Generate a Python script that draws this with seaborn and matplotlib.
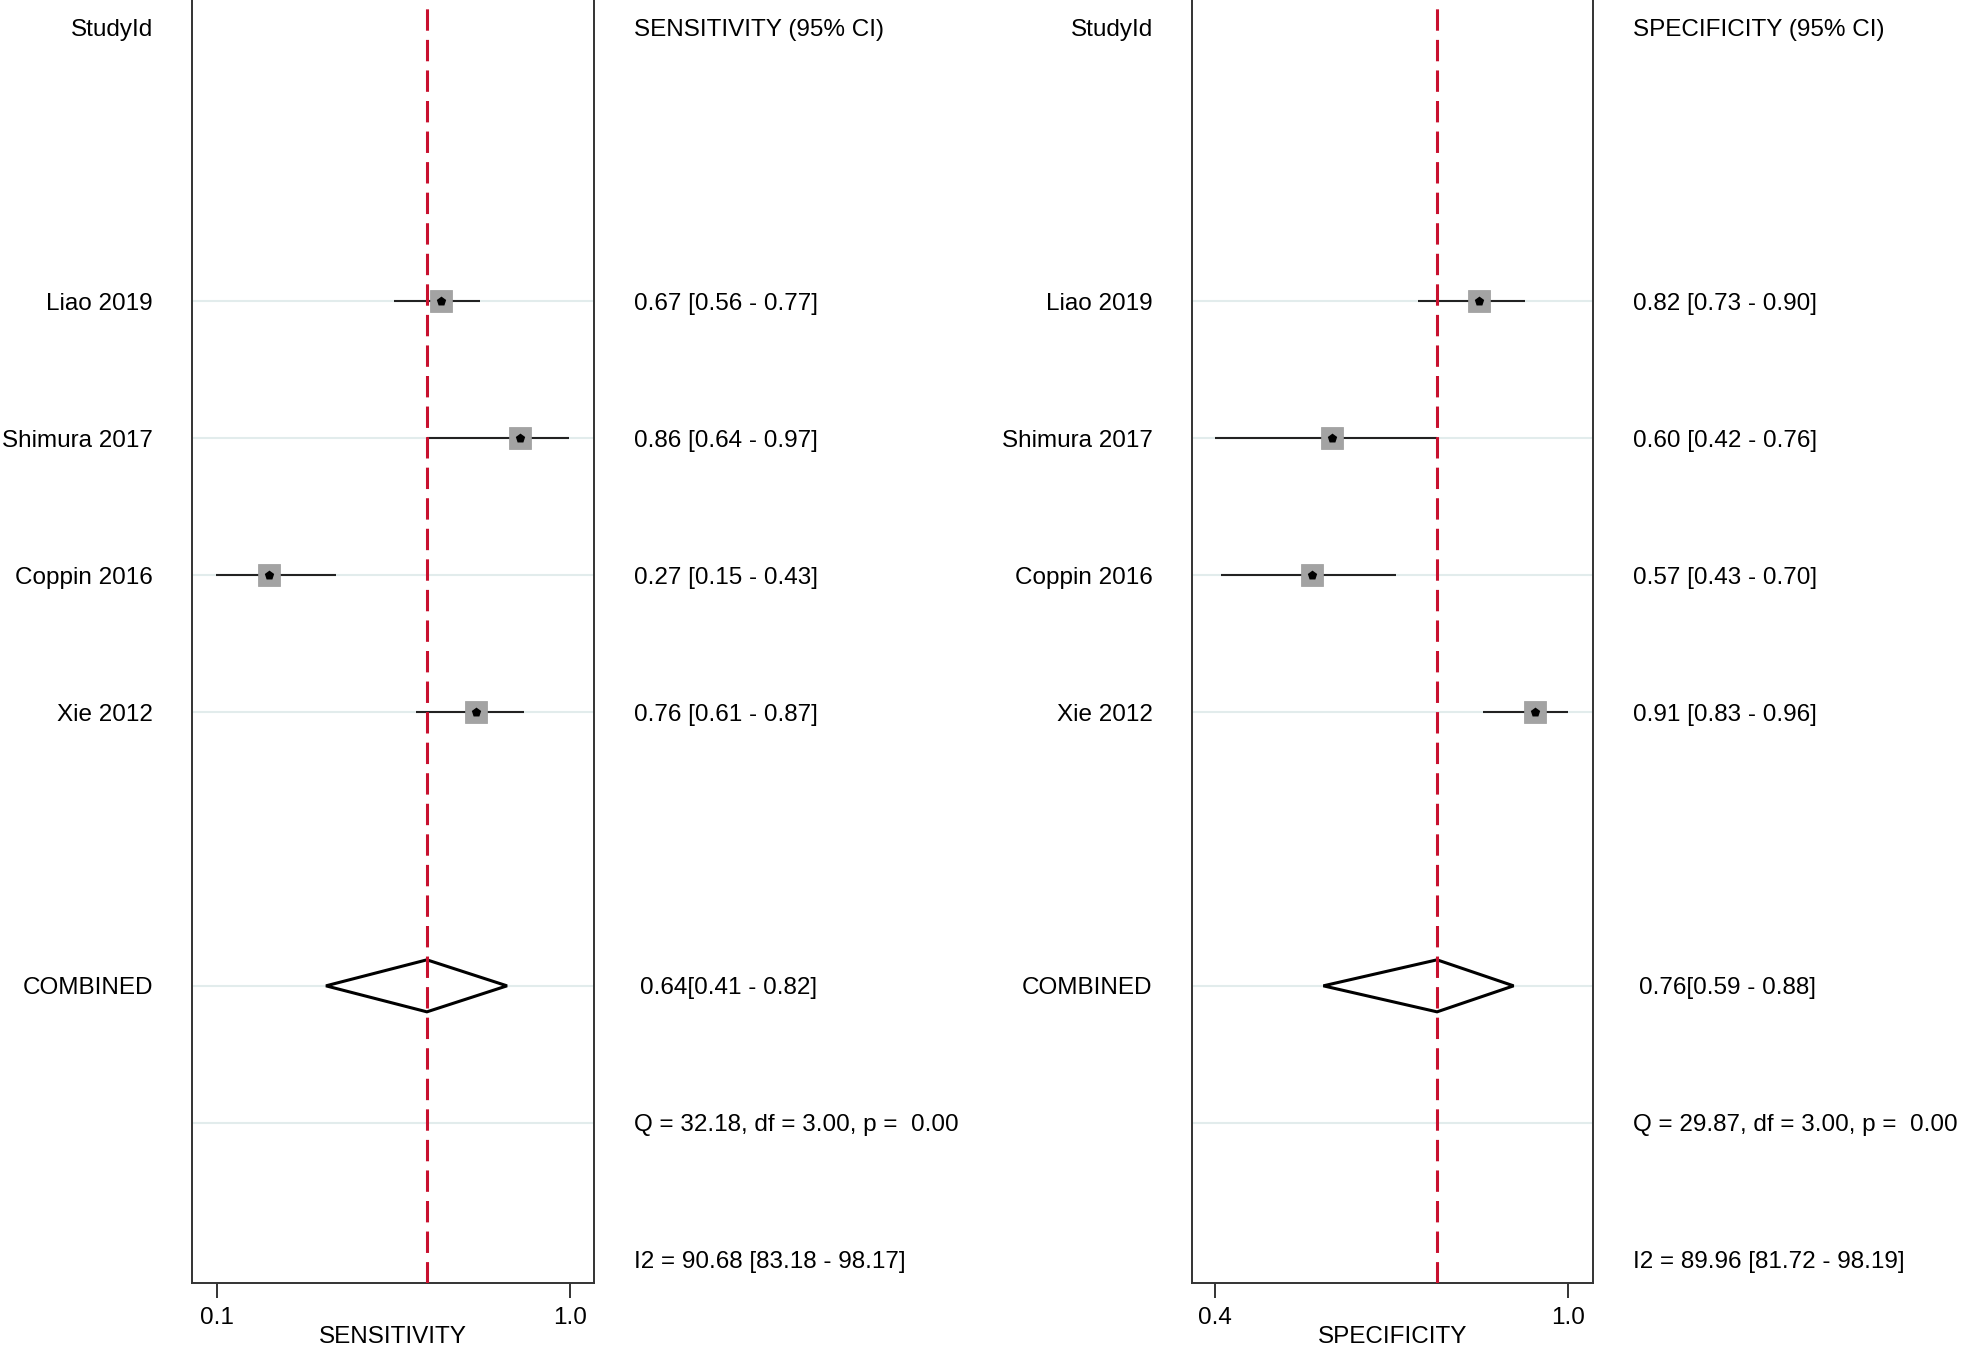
import numpy as np
import pandas as pd
import seaborn as sns
import matplotlib.pyplot as plt
from matplotlib.transforms import blended_transform_factory

# study labels and text columns
studies = ["Liao 2019", "Shimura 2017", "Coppin 2016", "Xie 2012"]
sens_labels = ["0.67 [0.56 - 0.77]", "0.86 [0.64 - 0.97]", "0.27 [0.15 - 0.43]", "0.76 [0.61 - 0.87]"]
spec_labels = ["0.82 [0.73 - 0.90]", "0.60 [0.42 - 0.76]", "0.57 [0.43 - 0.70]", "0.91 [0.83 - 0.96]"]
sens_comb_label = "0.64[0.41 - 0.82]"
spec_comb_label = "0.76[0.59 - 0.88]"
sens_q = "Q = 32.18, df = 3.00, p =  0.00"
spec_q = "Q = 29.87, df = 3.00, p =  0.00"
sens_i2 = "I2 = 90.68 [83.18 - 98.17]"
spec_i2 = "I2 = 89.96 [81.72 - 98.19]"

# plotted positions
sens_est = [0.671, 0.871, 0.232, 0.760]
sens_lo = [0.552, 0.634, 0.098, 0.606]
sens_hi = [0.771, 0.997, 0.403, 0.883]
sens_comb = [0.635, 0.378, 0.839]   # estimate, low, high

spec_est = [0.848, 0.598, 0.565, 0.943]
spec_lo = [0.744, 0.400, 0.411, 0.855]
spec_hi = [0.926, 0.777, 0.708, 1.000]
spec_comb = [0.777, 0.584, 0.907]

sns.set_style("white")
plt.rcParams['font.family'] = ['Liberation Sans', 'DejaVu Sans']
plt.rcParams['text.color'] = 'black'
plt.rcParams['axes.labelcolor'] = 'black'
plt.rcParams['xtick.color'] = 'black'
FS = 17.5
plt.rcParams['font.size'] = FS

study_rows = [2, 3, 4, 5]
comb_row, q_row, i2_row = 7, 8, 9

fig = plt.figure(figsize=(19.61, 13.55), dpi=100)
ax1 = fig.add_axes([0.0978, 0.0531, 0.2052, 0.9469])
ax2 = fig.add_axes([0.6077, 0.0531, 0.2045, 0.9469])


def forest(ax, est, lo, hi, comb, labels, comb_label, q_txt, i2_txt,
           header, xlabel, xlim, ticks):
    df = pd.DataFrame({"study": studies, "est": est, "lo": lo, "hi": hi, "row": study_rows})

    # light row lines
    for r in study_rows + [comb_row, q_row]:
        ax.axhline(r, color="#e2ecec", lw=1.5, zorder=0)

    ax.hlines(df["row"], df["lo"], df["hi"], color="#222222", lw=1.5, zorder=2)
    sns.scatterplot(data=df, x="est", y="row", marker="s", s=230, color="#a3a3a3",
                    edgecolor="#9a9a9a", linewidth=0.5, ax=ax, zorder=3, legend=False)
    sns.scatterplot(data=df, x="est", y="row", marker="p", s=50, color="black",
                    edgecolor="black", linewidth=0, ax=ax, zorder=4, legend=False)

    # pooled diamond
    c, l, h = comb
    hh = 0.19
    ax.fill([l, c, h, c, l], [comb_row, comb_row - hh, comb_row, comb_row + hh, comb_row],
            facecolor="white", edgecolor="black", lw=2.2, zorder=3)

    ax.axvline(c, color="#c8102e", lw=2.2, dashes=(7, 3), zorder=5)

    ax.set_xlim(*xlim)
    ax.set_ylim(9.171, -0.201)
    ax.set_yticks([])
    ax.set_ylabel("")
    ax.set_xticks(ticks)
    ax.set_xticklabels([f"{t:.1f}" for t in ticks])
    ax.tick_params(axis="x", direction="out", length=11, width=1.4, pad=6,
                   color="#333333", labelcolor="black", labelsize=FS, bottom=True)
    ax.set_xlabel(xlabel, fontsize=FS, labelpad=-2)
    for side in ["left", "right", "bottom"]:
        ax.spines[side].set_color("#333333")
        ax.spines[side].set_linewidth(1.4)
        ax.spines[side].set_visible(True)
    ax.spines["top"].set_visible(False)

    # text columns left and right of the panel
    tl = blended_transform_factory(ax.transAxes, ax.transData)
    kw = dict(xycoords=tl, textcoords="offset pixels", va="center_baseline", color="black")
    ax.annotate("StudyId", xy=(0, 0), xytext=(-39, 0), ha="right", **kw)
    ax.annotate(header, xy=(1, 0), xytext=(40, 0), ha="left", **kw)
    for name, lab, r in zip(studies, labels, study_rows):
        ax.annotate(name, xy=(0, r), xytext=(-39, 0), ha="right", **kw)
        ax.annotate(lab, xy=(1, r), xytext=(40, 0), ha="left", **kw)
    ax.annotate("COMBINED", xy=(0, comb_row), xytext=(-39, 0), ha="right", **kw)
    ax.annotate(comb_label, xy=(1, comb_row), xytext=(46, 0), ha="left", **kw)
    ax.annotate(q_txt, xy=(1, q_row), xytext=(40, 0), ha="left", **kw)
    ax.annotate(i2_txt, xy=(1, i2_row), xytext=(40, 0), ha="left", **kw)


forest(ax1, sens_est, sens_lo, sens_hi, sens_comb, sens_labels, sens_comb_label,
       sens_q, sens_i2, "SENSITIVITY (95% CI)", "SENSITIVITY", (0.0363, 1.061), [0.1, 1.0])
forest(ax2, spec_est, spec_lo, spec_hi, spec_comb, spec_labels, spec_comb_label,
       spec_q, spec_i2, "SPECIFICITY (95% CI)", "SPECIFICITY", (0.3604, 1.0414), [0.4, 1.0])

fig.savefig("out.png", dpi=100)
